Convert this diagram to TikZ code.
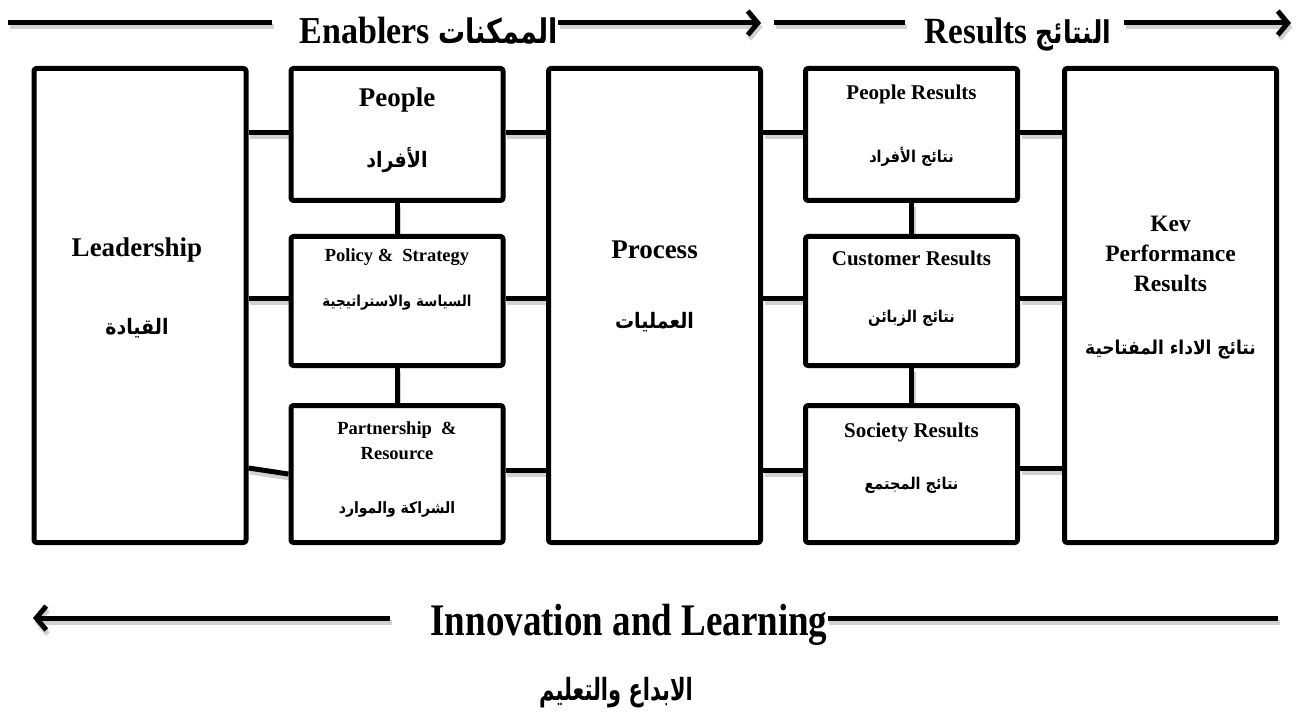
\documentclass[tikz,border=0pt]{standalone}
\usepackage{fontspec}
\usepackage{graphicx}
\setmainfont{Liberation Serif}
\newfontfamily\arabicfont[Script=Arabic]{DejaVu Sans}
\TeXXeTstate=1
\usetikzlibrary{arrows.meta}
% Arabic run in bold, right to left, set a little taller
\newcommand\artext[1]{\scalebox{1}[1.12]{\arabicfont\bfseries\beginR #1\endR}}
\newcommand\fs[1]{\fontsize{#1}{1.2\dimexpr#1pt\relax}\selectfont}

\tikzset{
  box/.style={draw, line width=5pt, rounded corners=2.5pt, inner sep=0pt},
  bigbox/.style={box, minimum width=212pt, minimum height=474pt},
  smallbox/.style={box, minimum width=212pt},
  shadowed/.style={preaction={draw, line width=5pt, black, opacity=0.18,
      transform canvas={xshift=1.5pt, yshift=-4pt}}},
  conn/.style={line width=5pt, shadowed},
  barb/.style={-{Straight Barb[length=10pt, width=24pt]}},
  bigtitle/.style={font=\bfseries\fs{27}, inner sep=0pt},
  restitle/.style={font=\bfseries\fs{21}, inner sep=0pt},
  smalltitle/.style={font=\bfseries\fs{18.5}, inner sep=0pt},
  txt/.style={inner sep=0pt}
}

\begin{document}
\begin{tikzpicture}[x=1pt, y=-1pt, line join=round]
\useasboundingbox (0,0) rectangle (1300,719);

% ---- the nine criteria boxes
\node[bigbox] (lead) at (140,305.5) {};
\node[smallbox, minimum height=132pt] (people) at (397,134.5) {};
\node[smallbox, minimum height=129pt] (policy) at (397,301) {};
\node[smallbox, minimum height=137pt] (partner) at (397,474) {};
\node[bigbox] (process) at (654.5,305.5) {};
\node[smallbox, minimum height=132pt] (pres) at (911.5,134.5) {};
\node[smallbox, minimum height=129pt] (cres) at (911.5,301) {};
\node[smallbox, minimum height=137pt] (sres) at (911.5,474) {};
\node[bigbox] (kpr) at (1170.5,305.5) {};

% ---- box texts
\node[bigtitle] (leadEN) at (137,250) {Leadership};
\node[txt] (leadAR) at (137,328) {\fs{19}\artext{القيادة}};

\node[bigtitle] (peopleEN) at (397,100) {People};
\node[txt] (peopleAR) at (397,160) {\fs{19}\artext{الأفراد}};

\node[smalltitle] (policyEN) at (397,257) {Policy \&\ \ Strategy};
\node[txt] (policyAR) at (397,303) {\fs{13.5}\artext{السياسة والاستراتيجية}};

\node[smalltitle, align=center, font=\bfseries\fontsize{18.5}{25}\selectfont] (partnerEN) at (397,441) {Partnership\ \ \&\\Resource};
\node[txt] (partnerAR) at (397,509) {\fs{14}\artext{الشراكة والموارد}};

\node[bigtitle] (processEN) at (654.5,250) {Process};
\node[txt] (processAR) at (654.5,322) {\fs{19}\artext{العمليات}};

\node[restitle] (presEN) at (911.5,94) {People Results};
\node[txt] (presAR) at (911.5,157) {\fs{14.5}\artext{نتائج الأفراد}};

\node[restitle] (cresEN) at (911.5,258) {Customer Results};
\node[txt] (cresAR) at (911.5,318) {\fs{14.5}\artext{نتائج الزبائن}};

\node[restitle] (sresEN) at (911.5,432) {Society Results};
\node[txt] (sresAR) at (911.5,485) {\fs{14.5}\artext{نتائج المجتمع}};

\node[restitle, align=center, font=\bfseries\fontsize{23.5}{30}\selectfont] (kprEN) at (1170.5,254) {Kev\\Performance\\Results};
\node[txt] (kprAR) at (1170.5,350) {\fs{17}\artext{نتائج الاداء المفتاحية}};

% ---- links between the boxes
\draw[conn] (lead.east |- 0,468) -- (partner.west |- 0,474);
\draw[conn] (lead.east |- 0,133) -- (people.west |- 0,133);
\draw[conn] (lead.east |- 0,298) -- (policy.west |- 0,298);
\draw[conn] (people.east |- 0,133) -- (process.west |- 0,133);
\draw[conn] (policy.east |- 0,298) -- (process.west |- 0,298);
\draw[conn] (partner.east |- 0,470) -- (process.west |- 0,470);
\draw[conn] (process.east |- 0,133) -- (pres.west |- 0,133);
\draw[conn] (process.east |- 0,298) -- (cres.west |- 0,298);
\draw[conn] (process.east |- 0,470) -- (sres.west |- 0,470);
\draw[conn] (pres.east |- 0,133) -- (kpr.west |- 0,133);
\draw[conn] (cres.east |- 0,298) -- (kpr.west |- 0,298);
\draw[conn] (sres.east |- 0,468) -- (kpr.west |- 0,468);
\draw[conn] (people.south) -- (policy.north);
\draw[conn] (policy.south) -- (partner.north);
\draw[conn] (pres.south) -- (cres.north);
\draw[conn] (cres.south) -- (sres.north);

% ---- top banner: enablers and results
\node[txt, anchor=base] (enab) at (429,44)
  {\scalebox{1}[1.12]{\bfseries\fs{34}Enablers \fs{27}\artext{الممكنات}}};
\node[txt, anchor=base] (res) at (1018,44)
  {\scalebox{1}[1.12]{\bfseries\fs{33}Results \fs{25}\artext{النتائج}}};
\coordinate (t0) at (8,23);
\coordinate (t1) at (272,23);
\coordinate (t2) at (761,23);
\coordinate (t3) at (774,23);
\coordinate (t4) at (905,23);
\coordinate (t5) at (1124,23);
\coordinate (t6) at (1291,23);
\draw[conn] (t0) -- (t1);
\draw[conn, barb] (enab.east |- t2) -- (t2);
\draw[conn] (t3) -- (t4);
\draw[conn, barb] (t5) -- (t6);

% ---- bottom: innovation and learning
\node[txt, anchor=base] (innov) at (629,635)
  {\scalebox{1}[1.22]{\bfseries\fs{37}Innovation and Learning}};
\coordinate (b0) at (33,618);
\coordinate (b1) at (390,618);
\coordinate (b2) at (1278,618);
\draw[conn, barb] (b1) -- (b0);
\draw[conn] (innov.east |- b2) -- (b2);
\node[txt, anchor=base] (innovAR) at (616,700)
  {\scalebox{1}[1.3]{\fs{21}\artext{الابداع والتعليم}}};
\end{tikzpicture}
\end{document}
